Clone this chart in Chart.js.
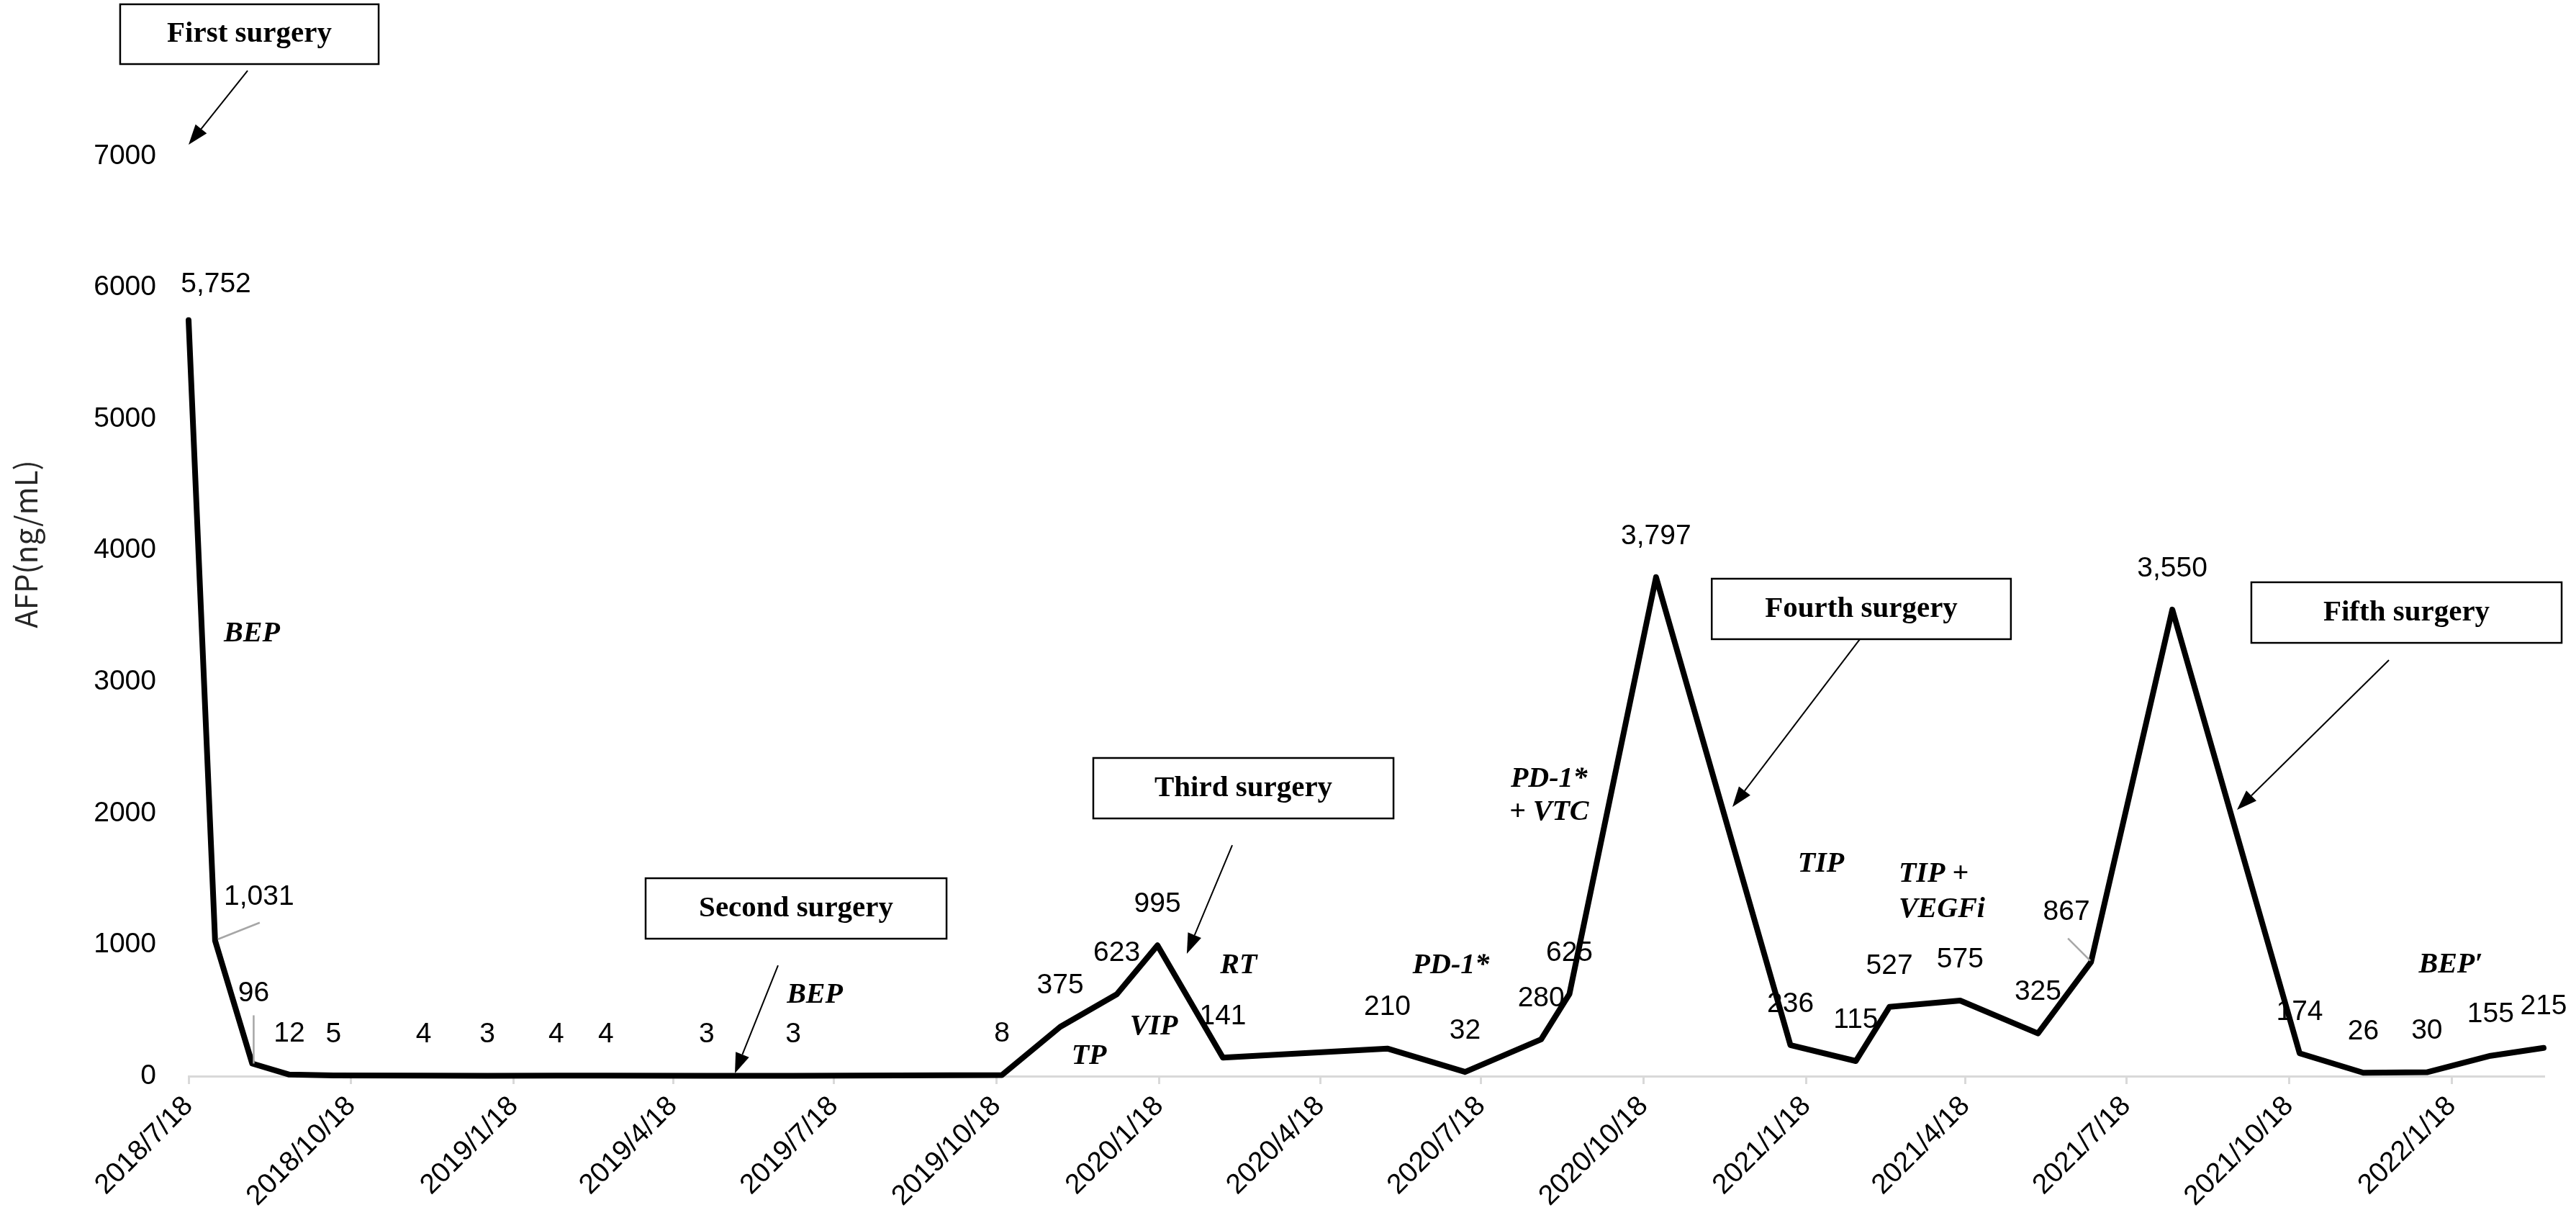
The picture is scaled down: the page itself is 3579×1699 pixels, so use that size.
<!DOCTYPE html>
<html lang="en">
<head>
<meta charset="UTF-8" />
<title>AFP trend</title>
<script src="https://cdn.jsdelivr.net/npm/chart.js@4.4.0/dist/chart.umd.min.js"></script>
<style>
  html, body { margin: 0; padding: 0; background: #fff; }
</style>
</head>
<body>
<canvas id="afpChart" width="3579" height="1699"></canvas>
<script>
// sample dates and AFP values (ng/mL)
const sampleDates = [
  "2018/7/18", "2018/8/2", "2018/8/23", "2018/9/13", "2018/10/8", "2018/11/28",
  "2019/1/3", "2019/2/11", "2019/3/11", "2019/5/7", "2019/6/25", "2019/10/21",
  "2019/11/23", "2019/12/25", "2020/1/17", "2020/2/23", "2020/5/26", "2020/7/9",
  "2020/8/21", "2020/9/6", "2020/10/25", "2021/1/9", "2021/2/15", "2021/3/6",
  "2021/4/15", "2021/5/29", "2021/6/28", "2021/8/13", "2021/10/24", "2021/11/29",
  "2022/1/4", "2022/2/9", "2022/3/11"
];
const afpValues = [
  5752, 1031, 96, 12, 5, 4,
  3, 4, 4, 3, 3, 8,
  375, 623, 995, 141, 210, 32,
  280, 625, 3797, 236, 115, 527,
  575, 325, 867, 3550, 174, 26,
  30, 155, 215
];
const tickDates = [
  "2018/7/18", "2018/10/18", "2019/1/18", "2019/4/18", "2019/7/18",
  "2019/10/18", "2020/1/18", "2020/4/18", "2020/7/18", "2020/10/18",
  "2021/1/18", "2021/4/18", "2021/7/18", "2021/10/18", "2022/1/18"
];
const yTickValues = [0, 1000, 2000, 3000, 4000, 5000, 6000, 7000];

// surgeries: box corners and arrow, in (day, AFP) units
const surgeries = [
  { text: "First surgery",  d: [-38.7, 107.5],  v: [7701, 8156], from: [33.4, 7651],  to: [0, 7088] },
  { text: "Second surgery", d: [258.5, 428.7],  v: [1046, 1506], from: [333.4, 843],  to: [309, 22] },
  { text: "Third surgery",  d: [511.7, 681.5],  v: [1961, 2421], from: [590.3, 1758], to: [564.6, 931] },
  { text: "Fourth surgery", d: [861.5, 1030.7], v: [3325, 3785], from: [945.3, 3325], to: [873.2, 2049] },
  { text: "Fifth surgery",  d: [1166.7, 1342.2], v: [3297, 3758], from: [1244.5, 3166], to: [1158.6, 2027] }
];
// treatment notes
const treatments = [
  { lines: ["BEP"], d: 35.8, v: [3363] },
  { lines: ["BEP"], d: 354.2, v: [613] },
  { lines: ["TP"], d: 509.3, v: [148] },
  { lines: ["VIP"], d: 545.9, v: [372] },
  { lines: ["RT"], d: 593.9, v: [838] },
  { lines: ["PD-1*"], d: 714, v: [838] },
  { lines: ["PD-1*", "+ VTC"], d: 769.5, v: [2257, 2005] },
  { lines: ["TIP"], d: 923.3, v: [1610] },
  { lines: ["TIP +", "VEGFi"], d: 967.2, v: [1537, 1268], left: true },
  { lines: ["BEP\u2032"], d: 1279.5, v: [843] }
];

function dayIndex(s) {
  const [y, m, d] = s.split("/").map(Number);
  return Math.round((Date.UTC(y, m - 1, d) - Date.UTC(2018, 6, 18)) / 86400000);
}

const points = sampleDates.map((s, i) => ({ x: dayIndex(s), y: afpValues[i] }));
const tickDays = tickDates.map(dayIndex);

// label nudges (px) for the few labels that were moved in the original
const labelNudge = {
  0: { dx: 38, dy: -50 },
  1: { dx: 61, dy: -61, leader: [[4, -2], [62, -25]] },
  2: { dx: 2, dy: -97, leader: [[2, 0], [2, -67]] },
  26: { dx: -34, dy: -69, leader: [[-1, -2], [-32, -33]] }
};

const sansFont = "'Liberation Sans', Arial, sans-serif";
const serifFont = "'Liberation Serif', 'Times New Roman', serif";

function drawArrow(ctx, x1, y1, x2, y2) {
  const ang = Math.atan2(y2 - y1, x2 - x1);
  const len = 28, half = 10;
  const bx = x2 - len * Math.cos(ang), by = y2 - len * Math.sin(ang);
  ctx.strokeStyle = "#000";
  ctx.lineWidth = 2;
  ctx.beginPath();
  ctx.moveTo(x1, y1);
  ctx.lineTo(bx, by);
  ctx.stroke();
  ctx.fillStyle = "#000";
  ctx.beginPath();
  ctx.moveTo(x2, y2);
  ctx.lineTo(bx + half * Math.sin(ang), by - half * Math.cos(ang));
  ctx.lineTo(bx - half * Math.sin(ang), by + half * Math.cos(ang));
  ctx.closePath();
  ctx.fill();
}

const notesPlugin = {
  id: "afpNotes",
  afterDatasetsDraw(chart) {
    const ctx = chart.ctx;
    const xs = chart.scales.x, ys = chart.scales.y;
    const px = d => xs.getPixelForValue(d);
    const py = v => ys.getPixelForValue(v);
    ctx.save();

    // data labels
    const meta = chart.getDatasetMeta(0);
    ctx.font = "39px " + sansFont;
    ctx.fillStyle = "#000";
    ctx.textAlign = "center";
    ctx.textBaseline = "middle";
    meta.data.forEach((pt, i) => {
      const n = labelNudge[i] || { dx: 0, dy: -57 };
      if (n.leader) {
        ctx.strokeStyle = "#a6a6a6";
        ctx.lineWidth = 2.5;
        ctx.beginPath();
        ctx.moveTo(pt.x + n.leader[0][0], pt.y + n.leader[0][1]);
        ctx.lineTo(pt.x + n.leader[1][0], pt.y + n.leader[1][1]);
        ctx.stroke();
      }
      ctx.fillStyle = "#000";
      ctx.fillText(afpValues[i].toLocaleString("en-US"), pt.x + n.dx, pt.y + n.dy);
    });

    // treatment notes
    ctx.font = "italic bold 40px " + serifFont;
    treatments.forEach(t => {
      ctx.textAlign = t.left ? "left" : "center";
      t.lines.forEach((line, k) => ctx.fillText(line, px(t.d), py(t.v[k])));
    });

    // surgery boxes and arrows
    surgeries.forEach(s => {
      const x0 = px(s.d[0]), x1 = px(s.d[1]);
      const y0 = py(s.v[1]), y1 = py(s.v[0]);
      ctx.fillStyle = "#fff";
      ctx.fillRect(x0, y0, x1 - x0, y1 - y0);
      ctx.strokeStyle = "#000";
      ctx.lineWidth = 2.5;
      ctx.strokeRect(x0, y0, x1 - x0, y1 - y0);
      ctx.fillStyle = "#000";
      ctx.font = "bold 41px " + serifFont;
      ctx.textAlign = "center";
      ctx.fillText(s.text, (x0 + x1) / 2, (y0 + y1) / 2);
      drawArrow(ctx, px(s.from[0]), py(s.from[1]), px(s.to[0]), py(s.to[1]));
    });

    // y axis title
    ctx.translate(36, 756);
    ctx.rotate(-Math.PI / 2);
    ctx.font = "42px 'Noto Sans CJK SC', 'Noto Sans', sans-serif";
    ctx.fillStyle = "#262626";
    ctx.textAlign = "center";
    ctx.fillText("AFP(ng/mL)", 0, 0);
    ctx.restore();
  }
};

new Chart("afpChart", {
  type: "line",
  data: {
    datasets: [{
      data: points,
      borderColor: "#000",
      borderWidth: 8,
      borderJoinStyle: "round",
      borderCapStyle: "round",
      pointRadius: 0,
      tension: 0,
      fill: false,
      clip: false
    }]
  },
  options: {
    responsive: false,
    animation: false,
    events: [],
    layout: { padding: { left: 0, top: 217, right: 45, bottom: 0 } },
    plugins: { legend: { display: false }, tooltip: { enabled: false } },
    scales: {
      x: {
        type: "linear",
        min: 0,
        max: dayIndex(sampleDates[sampleDates.length - 1]),
        afterBuildTicks: axis => { axis.ticks = tickDays.map(v => ({ value: v })); },
        afterFit: axis => { axis.height = 204; },
        ticks: {
          autoSkip: false,
          minRotation: 45,
          maxRotation: 45,
          padding: 8,
          color: "#000",
          font: { family: sansFont, size: 39 },
          callback: v => tickDates[tickDays.indexOf(v)] || ""
        },
        grid: { drawOnChartArea: false, drawTicks: true, tickLength: 11, color: "#d9d9d9", lineWidth: 3 },
        border: { display: true, color: "#d9d9d9", width: 3 }
      },
      y: {
        min: 0,
        max: 7000,
        afterBuildTicks: axis => { axis.ticks = yTickValues.map(v => ({ value: v })); },
        afterFit: axis => { axis.width = 262; },
        ticks: {
          padding: 45,
          color: "#000",
          font: { family: sansFont, size: 39 },
          callback: v => String(v)
        },
        grid: { display: false, drawTicks: false },
        border: { display: false }
      }
    }
  },
  plugins: [notesPlugin]
});
</script>
</body>
</html>
